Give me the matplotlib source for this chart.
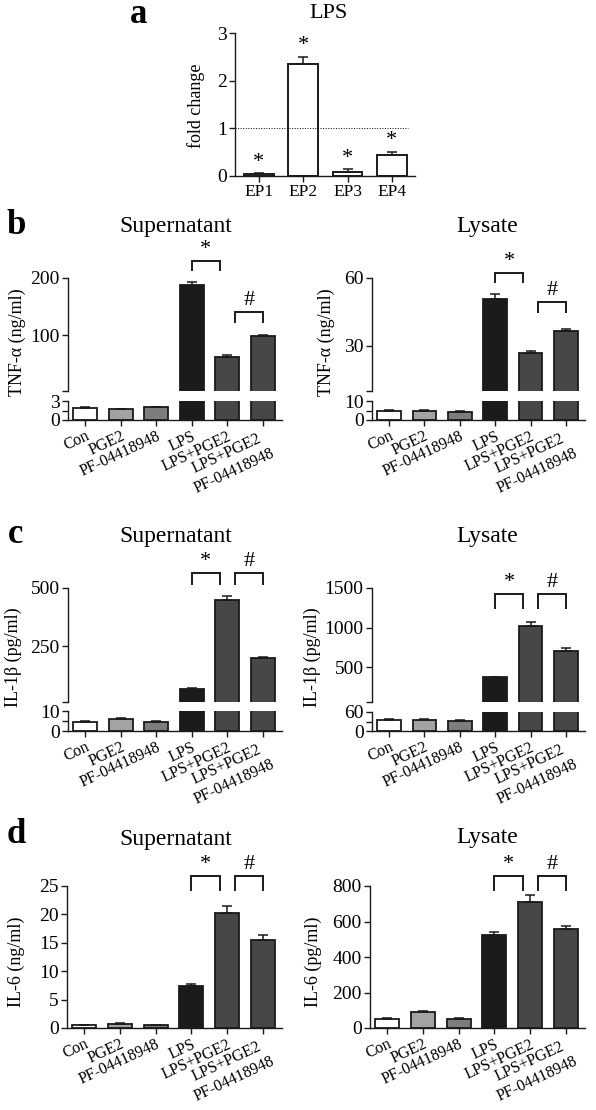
import matplotlib
matplotlib.use("Agg")
import matplotlib.pyplot as plt

plt.rcParams["font.family"] = ["Liberation Serif", "DejaVu Serif"]

# ---- data ----
ep_labels = ["EP1", "EP2", "EP3", "EP4"]
ep_fold = [0.05, 2.35, 0.09, 0.45]
ep_err = [0.01, 0.15, 0.05, 0.06]

groups = ["Con", "PGE2", "PF-04418948", "LPS", "LPS+PGE2", "LPS+PGE2\nPF-04418948"]
bar_colors = ["white", "#a3a3a3", "#7d7d7d", "#1b1b1b", "#474747", "#474747"]

tnf_sup = [1.9, 1.7, 2.0, 188, 63, 99]
tnf_sup_err = [0.1, 0.1, 0.1, 5, 2, 2]
tnf_lys = [4.8, 4.8, 4.3, 50.7, 27, 36.6]
tnf_lys_err = [0.3, 0.3, 0.3, 2.2, 0.7, 1.0]

il1b_sup = [4.5, 6.0, 4.5, 65, 448, 198]
il1b_sup_err = [0.4, 0.4, 0.4, 4, 16, 6]
il1b_lys = [36, 36, 33, 373, 1025, 709]
il1b_lys_err = [2, 2, 1.5, 8, 45, 30]

il6_sup = [0.5, 0.7, 0.45, 7.4, 20.3, 15.5]
il6_sup_err = [0.1, 0.15, 0.1, 0.35, 1.1, 0.8]
il6_lys = [50, 88, 52, 525, 712, 557]
il6_lys_err = [8, 6, 6, 15, 40, 18]

EDGE = "#1a1a1a"
W, H = 596, 1110
fig = plt.figure(figsize=(W / 100, H / 100), dpi=100)


def px_axes(left, top, right, bottom):
    return fig.add_axes([left / W, 1 - bottom / H, (right - left) / W, (bottom - top) / H])


def px_text(x, y, s, **kw):
    fig.text(x / W, 1 - y / H, s, **kw)


def style(ax):
    for side in ("top", "right"):
        ax.spines[side].set_visible(False)
    for side in ("left", "bottom"):
        ax.spines[side].set_linewidth(1.0)
        ax.spines[side].set_color(EDGE)
    ax.tick_params(length=4, width=1.0, color=EDGE, labelsize=14, pad=2)


def draw_bars(ax, vals, errs, floor=None):
    # only bars that reach into this axes segment
    idx = [i for i, v in enumerate(vals) if floor is None or v > floor]
    v = [vals[i] for i in idx]
    e = [errs[i] for i in idx]
    ax.bar(idx, v, width=0.67, color=[bar_colors[i] for i in idx], edgecolor=EDGE, linewidth=1.3)
    ax.errorbar(idx, v, yerr=[[0] * len(e), e], fmt="none", ecolor=EDGE,
                elinewidth=1.1, capsize=3.5, capthick=1.1)
    ax.set_xlim(-0.48, 5.54)


def set_xlabels(ax):
    ax.set_xticks(range(len(groups)))
    ax.set_xticklabels(groups, rotation=25, ha="right", rotation_mode="anchor",
                       fontsize=11.5, multialignment="center")


def bracket(ax, x0, x1, y_top, y_bot, label):
    ax.plot([x0, x0, x1, x1], [y_bot, y_top, y_top, y_bot], color=EDGE, lw=1.4,
            clip_on=False, solid_joinstyle="miter")
    ax.annotate(label, xy=((x0 + x1) / 2, y_top), xytext=(0, 1.5), textcoords="offset points",
                ha="center", va="bottom", fontsize=16, annotation_clip=False)


def broken_panel(left, right, top, split, gap_top, base, vals, errs,
                 up_lim, up_ticks, lo_lim, lo_ticks):
    up = px_axes(left, top, right, split)
    lo = px_axes(left, gap_top, right, base)
    style(up)
    style(lo)
    draw_bars(up, vals, errs, floor=up_lim[0])
    draw_bars(lo, vals, errs)
    up.spines["bottom"].set_visible(False)
    up.tick_params(axis="x", bottom=False, labelbottom=False)
    up.set_ylim(up_lim)
    up.set_yticks(up_ticks)
    up.set_yticklabels([""] + [str(t) for t in up_ticks[1:]])
    lo.set_ylim(lo_lim)
    lo.set_yticks(lo_ticks)
    lo.set_yticklabels([str(lo_ticks[0]), "", str(lo_ticks[2])])
    set_xlabels(lo)
    return up, lo


# ---- panel a ----
ax = px_axes(235, 33, 415, 176)
style(ax)
ax.bar(range(4), ep_fold, width=0.67, color="white", edgecolor=EDGE, linewidth=1.4)
ax.errorbar(range(4), ep_fold, yerr=[[0] * 4, ep_err], fmt="none", ecolor=EDGE,
            elinewidth=1.1, capsize=3.5, capthick=1.1)
ax.hlines(1, -0.54, 3.36, colors="k", linestyles=":", linewidth=0.7)
ax.set_xlim(-0.54, 3.52)
ax.set_ylim(0, 3)
ax.set_yticks([0, 1, 2, 3])
ax.set_xticks(range(4))
ax.set_xticklabels(ep_labels, fontsize=12.5)
for i, (v, e) in enumerate(zip(ep_fold, ep_err)):
    ax.annotate("*", xy=(i, v + e), xytext=(0, 1), textcoords="offset points",
                ha="center", va="bottom", fontsize=16, annotation_clip=False)
px_text(196, 106, "fold change", rotation=90, ha="center", va="center", fontsize=13)
px_text(328, 18, "LPS", ha="center", va="baseline", fontsize=16)
px_text(139, 23, "a", ha="center", va="baseline", fontsize=25, fontweight="bold")

# ---- panel b: TNF-alpha ----
up, lo = broken_panel(68, 282, 278, 391, 401, 420, tnf_sup, tnf_sup_err,
                      (3, 200), [3, 100, 200], (0, 3), [0, 1.5, 3])
bracket(up, 3.0, 3.8, 230, 214, "*")
bracket(up, 4.22, 5.0, 140, 124, "#")
up, lo = broken_panel(372, 585, 278, 391, 401, 420, tnf_lys, tnf_lys_err,
                      (10, 60), [10, 30, 60], (0, 10), [0, 5, 10])
bracket(up, 3.0, 3.8, 62.2, 58.2, "*")
bracket(up, 4.22, 5.0, 49.4, 45.0, "#")
px_text(17, 342, "TNF-α (ng/ml)", rotation=90, ha="center", va="center", fontsize=13)
px_text(326, 342, "TNF-α (ng/ml)", rotation=90, ha="center", va="center", fontsize=13)
px_text(176, 232, "Supernatant", ha="center", va="baseline", fontsize=17)
px_text(487, 232, "Lysate", ha="center", va="baseline", fontsize=17)
px_text(16, 234, "b", ha="center", va="baseline", fontsize=25, fontweight="bold")

# ---- panel c: IL-1beta ----
up, lo = broken_panel(68, 282, 588, 702, 711, 731, il1b_sup, il1b_sup_err,
                      (10, 500), [10, 250, 500], (0, 10), [0, 5, 10])
bracket(up, 3.0, 3.8, 565, 517, "*")
bracket(up, 4.22, 5.0, 565, 517, "#")
up, lo = broken_panel(372, 585, 588, 702, 712, 731, il1b_lys, il1b_lys_err,
                      (60, 1500), [60, 500, 1000, 1500], (0, 60), [0, 30, 60])
bracket(up, 3.0, 3.8, 1424, 1250, "*")
bracket(up, 4.22, 5.0, 1424, 1250, "#")
px_text(13, 657, "IL-1β (pg/ml)", rotation=90, ha="center", va="center", fontsize=13)
px_text(312, 657, "IL-1β (pg/ml)", rotation=90, ha="center", va="center", fontsize=13)
px_text(176, 542, "Supernatant", ha="center", va="baseline", fontsize=17)
px_text(487, 542, "Lysate", ha="center", va="baseline", fontsize=17)
px_text(16, 543, "c", ha="center", va="baseline", fontsize=25, fontweight="bold")

# ---- panel d: IL-6 ----
for left, right, vals, errs, top, ticks, bt, bb, lab, lx in [
    (67, 282, il6_sup, il6_sup_err, 25, [0, 5, 10, 15, 20, 25], 26.8, 24.3, "IL-6 (ng/ml)", 16),
    (370, 585, il6_lys, il6_lys_err, 800, [0, 200, 400, 600, 800], 856, 777, "IL-6 (pg/ml)", 313),
]:
    ax = px_axes(left, 886, right, 1028)
    style(ax)
    draw_bars(ax, vals, errs)
    ax.set_ylim(0, top)
    ax.set_yticks(ticks)
    set_xlabels(ax)
    bracket(ax, 3.0, 3.8, bt, bb, "*")
    bracket(ax, 4.22, 5.0, bt, bb, "#")
    px_text(lx, 962, lab, rotation=90, ha="center", va="center", fontsize=13)
px_text(176, 845, "Supernatant", ha="center", va="baseline", fontsize=17)
px_text(487, 843, "Lysate", ha="center", va="baseline", fontsize=17)
px_text(16, 843, "d", ha="center", va="baseline", fontsize=25, fontweight="bold")

fig.savefig("out.png", dpi=100)
